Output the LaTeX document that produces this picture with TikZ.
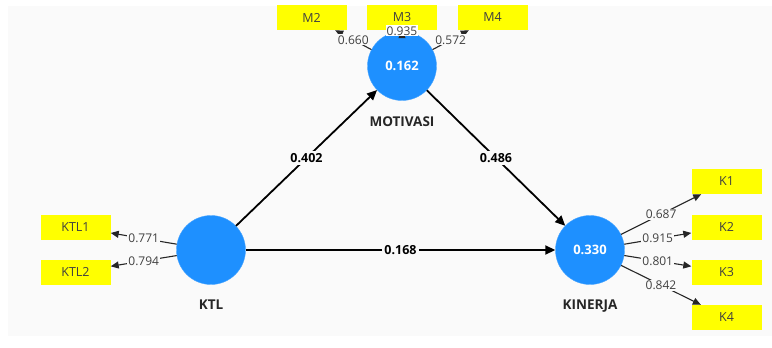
\documentclass[tikz,border=0pt]{standalone}
\usepackage{fontspec}
\setmainfont{Open Sans}
\usetikzlibrary{arrows.meta,positioning}
\definecolor{lvblue}{HTML}{1E90FF}
\definecolor{mvyellow}{HTML}{FFFF00}
\definecolor{panel}{HTML}{FAFAFA}
\tikzset{
  latent/.style={circle,fill=lvblue,draw=lvblue!80!white,minimum size=69pt,inner sep=0pt,
    text=white,font=\fontsize{13}{15}\selectfont\bfseries},
  lvname/.style={font=\fontsize{13.5}{16}\selectfont\bfseries,text=black!85},
  ind/.style={rectangle,fill=mvyellow,minimum width=70pt,minimum height=25pt,inner sep=0pt,
    text=black!75,font=\fontsize{12.5}{14}\selectfont},
  loadarr/.style={draw=black!85,line width=1.1pt,-{Triangle[length=8pt,width=7pt]}},
  loadlbl/.style={fill=panel,inner sep=1pt,text=black!75,font=\fontsize{12}{14}\selectfont},
  patharr/.style={draw=black,line width=1.8pt,-{Triangle[length=10pt,width=9pt]}},
  pathlbl/.style={fill=panel,inner sep=2pt,font=\fontsize{12.5}{14}\selectfont\bfseries}
}
\begin{document}
\begin{tikzpicture}[x=1pt,y=-1pt]
\useasboundingbox (0,0) rectangle (772,348);
\fill[panel] (8,6) rectangle (772,336);
% latent variables
\node[latent] (KTL) at (211,250) {};
\node[latent] (MOT) at (402,66) {0.162};
\node[latent] (KIN) at (590,250) {0.330};
\node[lvname,below=12pt of KTL] (KTLname) {KTL};
\node[lvname,below=12pt of MOT] (MOTname) {MOTIVASI};
\node[lvname,below=12pt of KIN] (KINname) {KINERJA};
% indicators
\node[ind] (M2) at (311.5,17.5) {M2};
\node[ind] (M3) at (402,17.5) {M3};
\node[ind] (M4) at (492.5,17.5) {M4};
\node[ind] (KTL1) at (75.5,227) {KTL1};
\node[ind] (KTL2) at (75.5,272) {KTL2};
\node[ind] (K1) at (726.5,181.5) {K1};
\node[ind] (K2) at (726.5,227) {K2};
\node[ind] (K3) at (726.5,272) {K3};
\node[ind] (K4) at (726.5,317.5) {K4};
% outer loadings
\foreach \m/\v in {KTL1/0.771,KTL2/0.794}
  \draw[loadarr] (KTL) -- node[loadlbl] (l\m) {\v} (\m);
\foreach \m/\v in {K1/0.687,K2/0.915,K3/0.801,K4/0.842}
  \draw[loadarr] (KIN) -- node[loadlbl] (l\m) {\v} (\m);
\foreach \m/\v in {M2/0.660,M4/0.572}
  \draw[loadarr] (MOT) -- node[loadlbl] (l\m) {\v} (\m);
\draw[loadarr] (MOT) -- node[loadlbl,fill=white] (lM3) {0.935} (M3);
% path coefficients
\draw[patharr] (KTL) -- node[pathlbl] (p1) {0.402} (MOT);
\draw[patharr] (MOT) -- node[pathlbl] (p2) {0.486} (KIN);
\draw[patharr] (KTL) -- node[pathlbl] (p3) {0.168} (KIN);
\end{tikzpicture}
\end{document}
